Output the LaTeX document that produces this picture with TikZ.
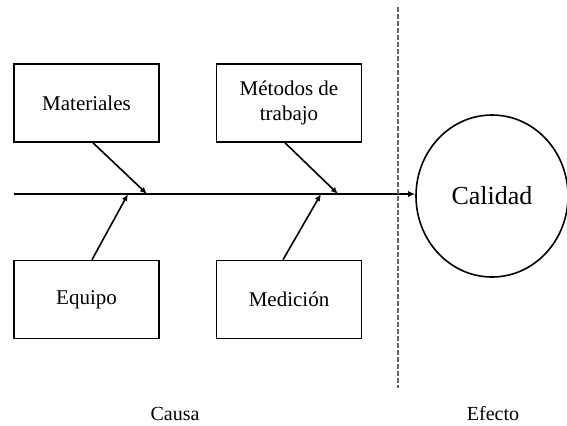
\documentclass[tikz,border=0pt]{standalone}
\usepackage{fontspec}
\setmainfont{Liberation Serif}
\usetikzlibrary{shapes,arrows.meta,calc}

\tikzset{
    causebox/.style={draw, thick, rectangle, minimum width=72.5pt, minimum height=39pt, align=center, font=\fontsize{10.5}{12.5}\selectfont},
    bone/.style={thick, -{Latex[length=3.5pt,width=3pt]}},
}

\begin{document}
\begin{tikzpicture}[x=0.5pt, y=-0.5pt]
    \useasboundingbox (0,0) rectangle (567,425);

    % Effect
    \node[draw, thick, ellipse, minimum width=76pt, minimum height=81pt, font=\fontsize{13}{15}\selectfont] (calidad) at (492,196) {Calidad};

    % Causes
    \node[causebox] (mat) at (86.5,103) {Materiales};
    \node[causebox] (met) at (289,103) {Métodos de\\trabajo};
    \node[causebox] (equ) at (86.5,299.5) {Equipo};
    \node[causebox] (med) at (289,299.5) {Medición};

    % Spine
    \coordinate (tail) at (14,194);
    \draw[bone] (tail) -- (tail -| calidad.west);

    % Bones to the spine
    \coordinate (b1) at (147,194);
    \coordinate (b2) at (128,194);
    \coordinate (b3) at (338,194);
    \coordinate (b4) at (321,194);
    \draw[bone] ($(mat.south)+(6.5,0)$) -- (b1);
    \draw[bone] ($(equ.north)+(5.5,0)$) -- (b2);
    \draw[bone] ($(met.south)+(-4,0)$) -- (b3);
    \draw[bone] ($(med.north)+(-6,0)$) -- (b4);

    % Divider
    \coordinate (dtop) at (398,7);
    \coordinate (dbot) at (398,388);
    \draw[thick, gray!80!black, dash pattern=on 2.5pt off 1pt] (dtop) -- (dbot);

    % Labels
    \node[font=\fontsize{10}{12}\selectfont] (causa) at (175,414) {Causa};
    \node[font=\fontsize{10}{12}\selectfont] (efecto) at (493,414) {Efecto};
\end{tikzpicture}
\end{document}
